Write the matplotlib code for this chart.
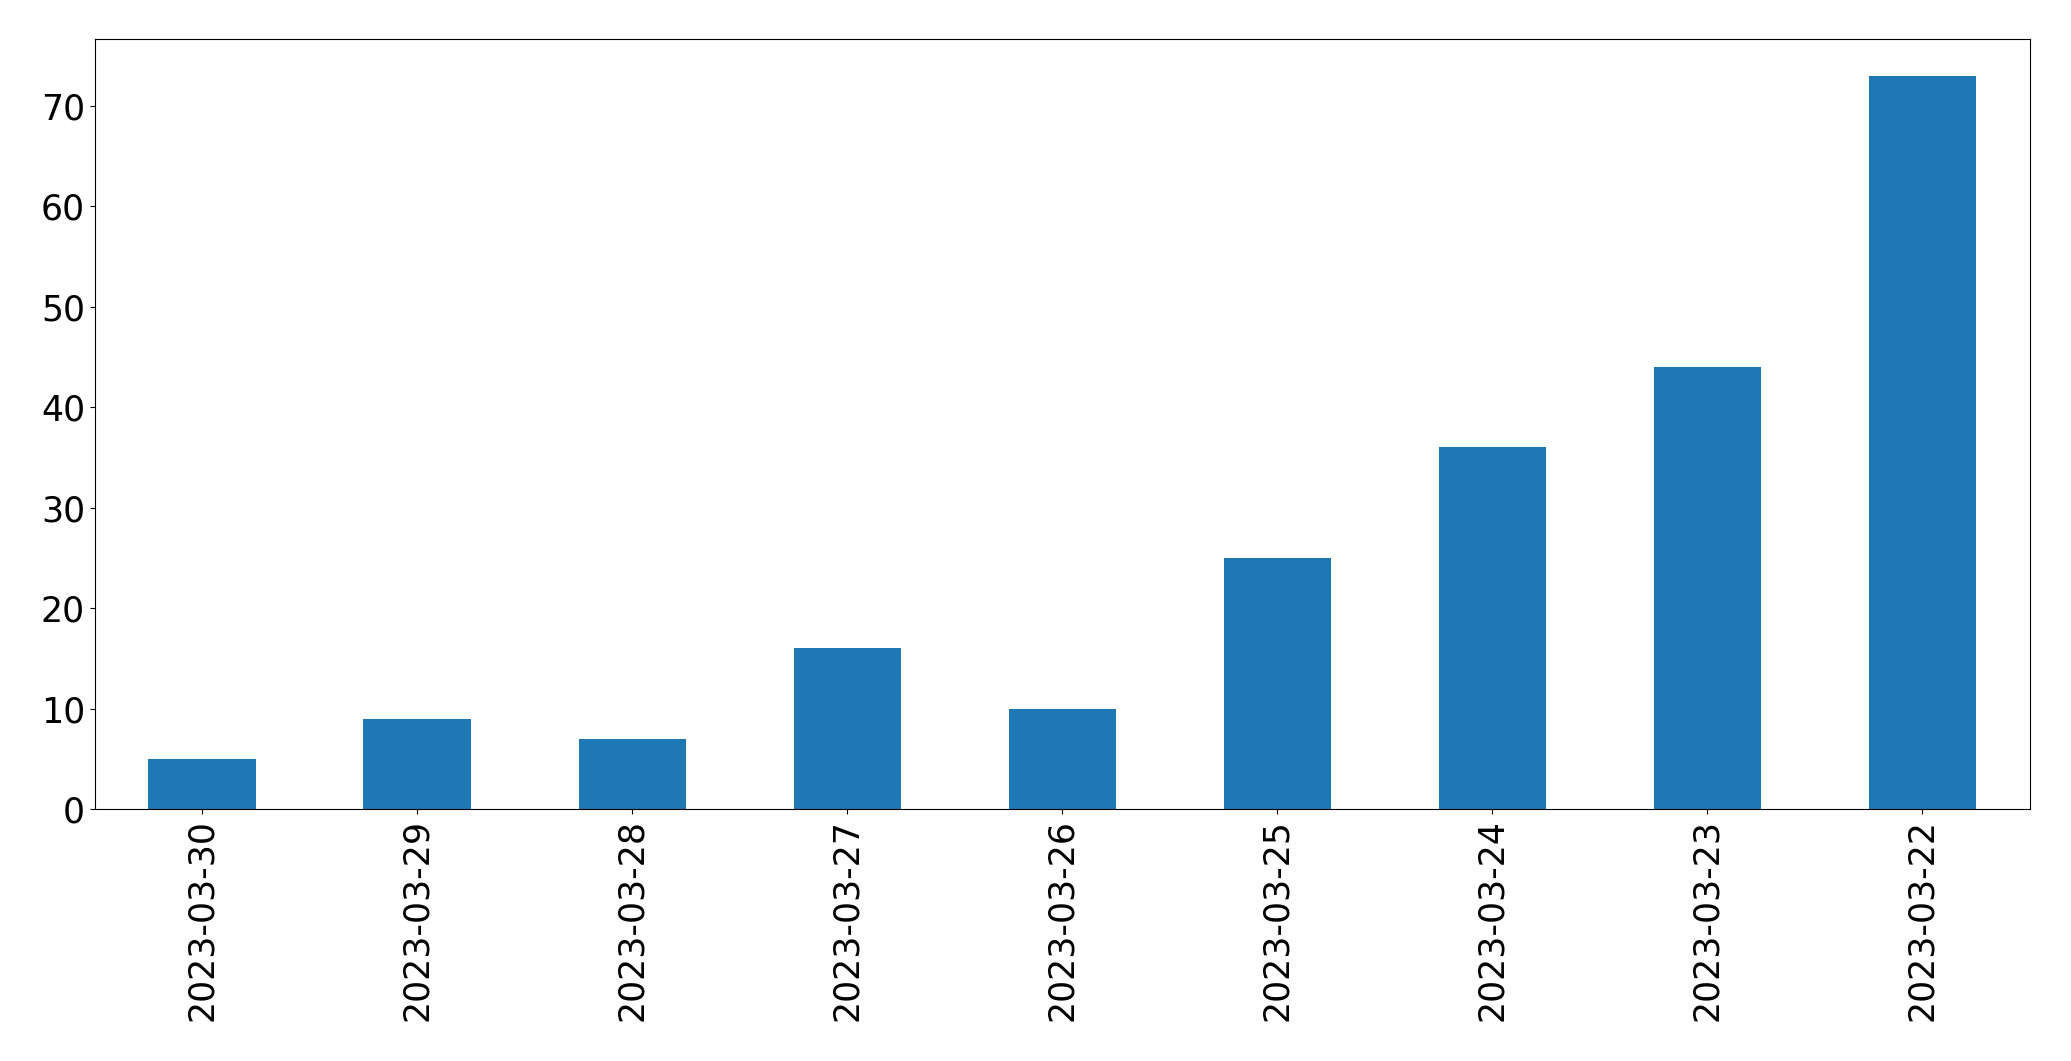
import matplotlib
matplotlib.use("Agg")
import matplotlib.pyplot as plt
import pandas as pd

# Daily counts, newest first (as in the source chart)
dates = ["2023-03-30", "2023-03-29", "2023-03-28", "2023-03-27", "2023-03-26",
         "2023-03-25", "2023-03-24", "2023-03-23", "2023-03-22"]
counts = [5, 9, 7, 16, 10, 25, 36, 44, 73]

s = pd.Series(counts, index=dates)

fig = plt.figure(figsize=(20.71, 10.61), dpi=100)
ax = fig.add_axes([94.7 / 2071, 1 - 809 / 1061, (2030 - 94.7) / 2071, (809 - 39.3) / 1061])
s.plot(kind="bar", ax=ax, color="#1f77b4")

ax.tick_params(axis="both", labelsize=25)
ax.tick_params(axis="x", labelrotation=90)

fig.savefig("out.png", dpi=100)
